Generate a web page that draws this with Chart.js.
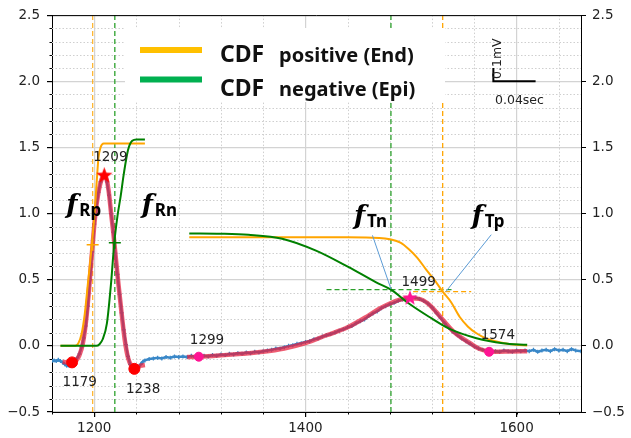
<!DOCTYPE html>
<html>
<head>
<meta charset="utf-8">
<script src="https://cdn.jsdelivr.net/npm/chart.js@4.4.0/dist/chart.umd.min.js"></script>
<style>
  html, body { margin: 0; padding: 0; background: #fff; }
  #wrap { width: 631px; height: 438px; }
</style>
</head>
<body>
<div id="wrap"><canvas id="ecgChart" width="631" height="438"></canvas></div>
<script>
// ECG trace (time in ms, amplitude in mV)
const ecgX = [1160,1162,1164,1166,1168,1170,1172,1174,1176,1178,1180,1182,1184,1186,1188,1190,1192,1194,1196,1198,
  1200,1202,1204,1206,1208,1210,1212,1214,1216,1218,1220,1222,1224,1226,1228,1230,1232,1234,1236,1238,
  1240,1242,1244,1246,1248,1252,1256,1260,1264,1268,1272,1276,1280,1284,1288,1292,1296,1300,1304,1308,
  1312,1316,1320,1324,1328,1332,1336,1340,1344,1348,1352,1356,1360,1364,1368,1372,1376,1380,1384,1388,
  1392,1396,1400,1404,1408,1412,1416,1420,1424,1428,1432,1436,1440,1444,1448,1452,1456,1460,1464,1468,
  1472,1476,1480,1484,1488,1492,1496,1500,1504,1508,1512,1516,1520,1524,1528,1532,1536,1540,1544,1548,
  1552,1556,1560,1564,1568,1572,1576,1580,1584,1588,1592,1596,1600,1604,1608,1612,1616,1620,1624,1628,
  1632,1636,1640,1644,1648,1652,1656,1661];
const ecgY = [-0.115,-0.11,-0.115,-0.105,-0.115,-0.125,-0.14,-0.15,-0.15,-0.145,-0.135,-0.115,-0.09,-0.06,-0.01,0.06,0.15,0.3,0.5,0.71,
  0.92,1.05,1.16,1.24,1.28,1.28,1.24,1.14,1.0,0.86,0.7,0.54,0.39,0.25,0.12,0.01,-0.08,-0.14,-0.17,-0.185,
  -0.18,-0.16,-0.14,-0.12,-0.11,-0.1,-0.095,-0.09,-0.095,-0.085,-0.09,-0.08,-0.085,-0.08,-0.085,-0.075,-0.085,-0.08,-0.075,-0.08,
  -0.07,-0.075,-0.065,-0.07,-0.06,-0.065,-0.055,-0.06,-0.05,-0.055,-0.045,-0.05,-0.04,-0.035,-0.03,-0.02,-0.02,-0.01,0.0,0.005,
  0.015,0.02,0.03,0.035,0.05,0.055,0.07,0.08,0.09,0.1,0.115,0.125,0.14,0.15,0.17,0.185,0.2,0.225,0.245,0.26,
  0.285,0.3,0.315,0.325,0.34,0.35,0.36,0.365,0.365,0.355,0.34,0.32,0.29,0.25,0.21,0.17,0.135,0.105,0.08,0.055,
  0.035,0.015,-0.005,-0.02,-0.03,-0.04,-0.045,-0.04,-0.045,-0.035,-0.04,-0.045,-0.035,-0.04,-0.035,-0.04,-0.03,-0.045,-0.035,-0.03,
  -0.04,-0.025,-0.035,-0.03,-0.04,-0.025,-0.035,-0.04];

// fitted waveform, R part and T part
const fitRX = [1170,1174,1179,1183,1186,1189,1192,1195,1198,1201,1204,1207,1209.5,1212,1214,1216,1218,1220,1223,1226,1229,1232,1235,1238,1241,1244,1248];
const fitRY = [-0.12,-0.125,-0.128,-0.11,-0.07,0.01,0.17,0.42,0.72,0.99,1.16,1.26,1.288,1.25,1.15,1.0,0.86,0.7,0.46,0.24,0.04,-0.09,-0.15,-0.175,-0.165,-0.15,-0.145];
const fitTX = [1288,1300,1320,1340,1360,1380,1400,1420,1440,1460,1470,1480,1490,1499,1508,1516,1524,1532,1540,1548,1556,1564,1572,1580,1595,1610];
const fitTY = [-0.085,-0.082,-0.072,-0.06,-0.045,-0.02,0.02,0.08,0.14,0.23,0.28,0.32,0.35,0.36,0.355,0.32,0.255,0.18,0.11,0.06,0.02,-0.02,-0.04,-0.045,-0.042,-0.04];

// CDF curves (positive = endocardial, negative = epicardial)
const cdfPosRX = [1168,1182,1185,1188,1191,1194,1197,1200,1202,1204,1206,1209,1248];
const cdfPosRY = [0,0,0.02,0.09,0.24,0.47,0.7,0.97,1.2,1.42,1.5,1.53,1.53];
const cdfNegRX = [1168,1202,1205,1208,1212,1216,1219,1222,1225,1228,1232,1236,1240,1248];
const cdfNegRY = [0,0,0.012,0.05,0.17,0.48,0.78,0.98,1.13,1.3,1.48,1.55,1.56,1.56];
const cdfPosTX = [1290,1340,1400,1440,1470,1480,1490,1498,1506,1514,1522,1530,1538,1546,1554,1562,1570,1580,1590,1600,1610];
const cdfPosTY = [0.82,0.82,0.82,0.82,0.815,0.805,0.78,0.73,0.665,0.58,0.5,0.41,0.33,0.22,0.145,0.095,0.06,0.035,0.018,0.008,0.003];
const cdfNegTX = [1290,1320,1346,1378,1410,1441,1467,1481,1498,1517,1536,1562,1587,1610];
const cdfNegTY = [0.85,0.848,0.84,0.81,0.72,0.595,0.48,0.425,0.32,0.22,0.13,0.058,0.02,0.0075];

// midpoint markers of the CDFs and their guide lines
const halfPosX = [1198.5, 1530];
const halfNegX = [1219.5, 1481];
const halfPosRY = 0.765, halfNegRY = 0.78;
const hNegX = [1420, 1541], hNegY = 0.425;
const hPosX = [1502, 1557], hPosY = 0.41;

// fiducial points
const onsetX = [1179, 1238], onsetY = [-0.125, -0.174];
const baseX = [1299, 1574], baseY = [-0.082, -0.045];
const peakRX = [1209.5], peakRY = [1.286];
const peakTX = [1499], peakTY = [0.36];

// point labels: text, anchor x, anchor y (left / baseline)
const ptLabels = ['1179', '1209', '1238', '1299', '1499', '1574'];
const ptLabelX = [1170, 1199, 1230, 1290.5, 1491, 1566];
const ptLabelY = [-0.3, 1.395, -0.356, 0.013, 0.455, 0.055];

// f labels and pointer lines
const fSubs = ['Rp', 'Rn', 'Tn', 'Tp'];
const fLabelX = [1173.5, 1245, 1446, 1557.5];
const fLabelY = [1.0, 1.0, 0.91, 0.91];
const pointerTn = [[1463.5, 0.835], [1481, 0.43]];
const pointerTp = [[1576, 0.84], [1533, 0.41]];

// scale bar: 0.04 sec x 0.1 mV
const barX = [1578, 1578, 1618];
const barY = [2.1, 2.0, 2.0];

const xTicks = [1200, 1400, 1600];
const X_MIN = 1160, X_MAX = 1661, Y_MIN = -0.5, Y_MAX = 2.5;

const pts = (xs, ys) => xs.map((x, i) => ({ x: x, y: ys[i] }));

function star(color, size) {
  const c = document.createElement('canvas');
  c.width = size; c.height = size;
  const g = c.getContext('2d');
  const r = size / 2, ri = r * 0.42;
  g.beginPath();
  for (let i = 0; i < 10; i++) {
    const a = -Math.PI / 2 + i * Math.PI / 5;
    const rr = i % 2 ? ri : r;
    g.lineTo(r + rr * Math.cos(a), r + rr * Math.sin(a));
  }
  g.closePath();
  g.fillStyle = color;
  g.fill();
  return c;
}

const curve = (data, color, width, order, extra) => Object.assign({
  data: data, showLine: true, borderColor: color, backgroundColor: color,
  borderWidth: width, pointRadius: 0, cubicInterpolationMode: 'monotone', order: order
}, extra || {});

const dashed = (data, color, order) => ({
  data: data, showLine: true, borderColor: color, borderWidth: 1.3,
  borderDash: [5, 3], pointRadius: 0, order: order
});

const datasets = [
  dashed([{ x: halfPosX[0], y: Y_MIN }, { x: halfPosX[0], y: Y_MAX }], 'rgba(255,165,0,0.8)', 9),
  dashed([{ x: halfPosX[1], y: Y_MIN }, { x: halfPosX[1], y: Y_MAX }], '#ffa500', 9),
  dashed([{ x: halfNegX[0], y: Y_MIN }, { x: halfNegX[0], y: Y_MAX }], '#2ca02c', 9),
  dashed([{ x: halfNegX[1], y: Y_MIN }, { x: halfNegX[1], y: Y_MAX }], '#2ca02c', 9),
  dashed(pts(hNegX, [hNegY, hNegY]), '#2ca02c', 9),
  dashed(pts(hPosX, [hPosY, hPosY]), '#ffa500', 9),
  curve(pts(ecgX, ecgY), '#3a88c8', 2.5, 8, { pointRadius: 2, pointStyle: 'cross', pointBorderWidth: 1.2, cubicInterpolationMode: 'default', tension: 0 }),
  curve(pts(fitRX, fitRY), 'rgba(232,30,60,0.72)', 4.5, 7),
  curve(pts(fitTX, fitTY), 'rgba(232,30,60,0.72)', 4.5, 7),
  curve(pts(cdfPosRX, cdfPosRY), '#ffa500', 2, 6),
  curve(pts(cdfPosTX, cdfPosTY), '#ffa500', 2, 6),
  curve(pts(cdfNegRX, cdfNegRY), '#008000', 2, 5),
  curve(pts(cdfNegTX, cdfNegTY), '#008000', 2, 5),
  { data: [{ x: halfPosX[0], y: halfPosRY }], pointStyle: 'cross', pointRadius: 6, borderColor: '#ffa500', pointBorderWidth: 1.5, order: 4 },
  { data: [{ x: halfNegX[0], y: halfNegRY }], pointStyle: 'cross', pointRadius: 6, borderColor: '#008000', pointBorderWidth: 1.5, order: 4 },
  curve(pointerTn.map(p => ({ x: p[0], y: p[1] })), '#5b9bd5', 1, 3, { cubicInterpolationMode: 'default' }),
  curve(pointerTp.map(p => ({ x: p[0], y: p[1] })), '#5b9bd5', 1, 3, { cubicInterpolationMode: 'default' }),
  curve(pts(barX, barY), '#000', 2, 3, { cubicInterpolationMode: 'default' }),
  { data: pts(onsetX, onsetY), pointRadius: 5.5, backgroundColor: '#ff0000', borderColor: '#ff0000', order: 1 },
  { data: pts(baseX, baseY), pointRadius: 4.5, backgroundColor: '#ff1493', borderColor: '#ff1493', order: 1 },
  { data: pts(peakRX, peakRY), pointStyle: star('#ff0000', 17), order: 0 },
  { data: pts(peakTX, peakTY), pointStyle: star('#ff1493', 16), order: 0 }
];

const TXT = '#222';
const TICK_FONT = { family: 'DejaVu Sans', size: 13.5 };
const fmtY = v => v.toFixed(1).replace('-', '\u2212');

// dotted minor grid + minor tick marks
const minorGrid = {
  id: 'minorGrid',
  beforeDatasetsDraw(chart) {
    const { ctx, chartArea: a } = chart;
    const sx = chart.scales.x, sy = chart.scales.y;
    ctx.save();
    ctx.lineWidth = 1;
    for (let v = X_MIN; v <= X_MAX; v += 40) {
      const px = Math.round(sx.getPixelForValue(v)) + 0.5;
      if (!xTicks.includes(v) && v > X_MIN) {
        ctx.strokeStyle = '#cfcfcf'; ctx.setLineDash([1.5, 2]);
        ctx.beginPath(); ctx.moveTo(px, a.top); ctx.lineTo(px, a.bottom); ctx.stroke();
      }
      ctx.setLineDash([]); ctx.strokeStyle = '#000';
      ctx.beginPath(); ctx.moveTo(px, a.bottom); ctx.lineTo(px, a.bottom + 2.5); ctx.stroke();
    }
    for (let k = -5; k <= 25; k++) {
      if (k % 5 === 0) continue;
      const py = Math.round(sy.getPixelForValue(k / 10)) + 0.5;
      ctx.strokeStyle = '#cfcfcf'; ctx.setLineDash([1.5, 2]);
      ctx.beginPath(); ctx.moveTo(a.left, py); ctx.lineTo(a.right, py); ctx.stroke();
      ctx.setLineDash([]); ctx.strokeStyle = '#000';
      ctx.beginPath(); ctx.moveTo(a.left - 2.5, py); ctx.lineTo(a.left, py); ctx.stroke();
    }
    ctx.restore();
  }
};

// texts, legend box, top frame
const overlay = {
  id: 'overlay',
  afterDatasetsDraw(chart) {
    const { ctx, chartArea: a } = chart;
    const sx = chart.scales.x, sy = chart.scales.y;
    ctx.save();
    ctx.strokeStyle = '#000'; ctx.lineWidth = 1;
    ctx.beginPath(); ctx.moveTo(a.left, a.top + 0.5); ctx.lineTo(a.right, a.top + 0.5); ctx.stroke();

    ctx.fillStyle = TXT;
    ctx.textAlign = 'left'; ctx.textBaseline = 'alphabetic';
    ctx.font = '13.5px "DejaVu Sans"';
    ptLabels.forEach((t, i) => ctx.fillText(t, sx.getPixelForValue(ptLabelX[i]), sy.getPixelForValue(ptLabelY[i])));

    fSubs.forEach((s, i) => {
      const px = sx.getPixelForValue(fLabelX[i]), py = sy.getPixelForValue(fLabelY[i]);
      ctx.fillStyle = '#000';
      ctx.font = 'bold italic 26px "DejaVu Serif"';
      ctx.fillText('f', px, py - 1);
      ctx.font = 'bold 17px "Noto Sans"';
      ctx.fillText(s, px + 13, py + 2);
    });

    // scale bar labels
    ctx.fillStyle = TXT;
    ctx.font = '12.5px "DejaVu Sans"';
    ctx.fillText('0.04sec', 495, 104);
    ctx.save();
    ctx.translate(501, 79);
    ctx.rotate(-Math.PI / 2);
    ctx.fillText('0.1mV', 0, 0);
    ctx.restore();

    // legend
    ctx.fillStyle = '#fff';
    ctx.fillRect(125, 28, 320, 74);
    ctx.lineWidth = 6;
    ctx.strokeStyle = '#ffc000';
    ctx.beginPath(); ctx.moveTo(140, 50); ctx.lineTo(202, 50); ctx.stroke();
    ctx.strokeStyle = '#00b050';
    ctx.beginPath(); ctx.moveTo(140, 79.5); ctx.lineTo(202, 79.5); ctx.stroke();
    ctx.fillStyle = '#111';
    ctx.font = 'bold 23px "Noto Sans"';
    ctx.fillText('CDF', 220, 62);
    ctx.fillText('CDF', 220, 95.5);
    ctx.font = 'bold 20px "Noto Sans"';
    ctx.fillText('positive (End)', 279, 62);
    ctx.fillText('negative (Epi)', 279, 95.5);
    ctx.restore();
  }
};

new Chart(document.getElementById('ecgChart'), {
  type: 'scatter',
  data: { datasets: datasets },
  options: {
    responsive: false,
    animation: false,
    layout: { padding: { top: 10, left: 0, right: 0, bottom: 0 } },
    plugins: { legend: { display: false }, tooltip: { enabled: false } },
    scales: {
      x: {
        type: 'linear', min: X_MIN, max: X_MAX,
        afterBuildTicks: s => { s.ticks = xTicks.map(v => ({ value: v })); },
        afterFit: s => { s.height = 26; },
        grid: { color: '#d3d3d3', lineWidth: 1.2, tickColor: '#000', tickLength: 5 },
        border: { color: '#000', width: 1 },
        ticks: { color: TXT, font: TICK_FONT, padding: 3, maxRotation: 0, callback: v => String(v) }
      },
      y: {
        position: 'left', min: Y_MIN, max: Y_MAX,
        afterFit: s => { s.width = 52; },
        grid: { color: '#d3d3d3', lineWidth: 1.2, tickColor: '#000', tickLength: 5 },
        border: { color: '#000', width: 1 },
        ticks: { stepSize: 0.5, color: TXT, font: TICK_FONT, padding: 7, callback: fmtY }
      },
      y2: {
        position: 'right', min: Y_MIN, max: Y_MAX,
        afterFit: s => { s.width = 50; },
        grid: { drawOnChartArea: false, tickColor: '#000', tickLength: 5 },
        border: { color: '#000', width: 1 },
        ticks: { stepSize: 0.5, color: TXT, font: TICK_FONT, padding: 6, callback: fmtY }
      }
    }
  },
  plugins: [minorGrid, overlay]
});
</script>
</body>
</html>
